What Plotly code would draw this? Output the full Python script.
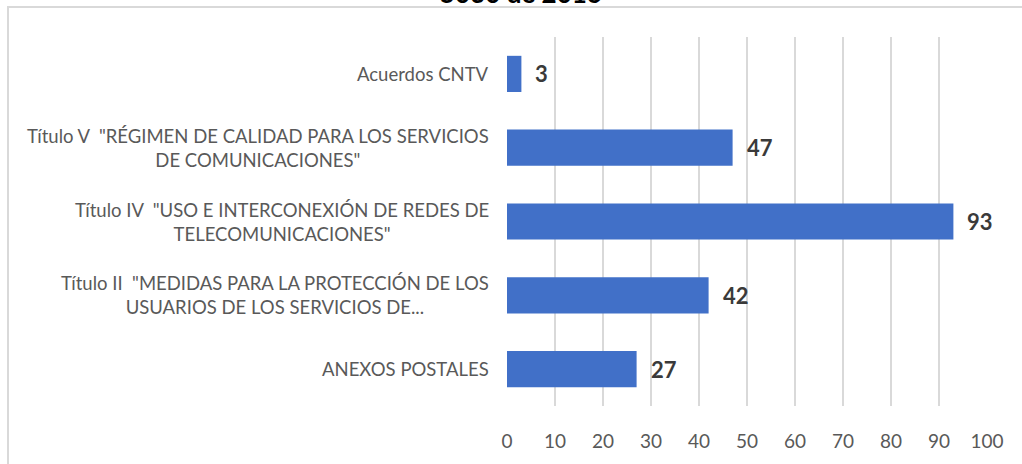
import plotly.graph_objects as go

categories = [
    "Acuerdos CNTV",
    "Título V  \"RÉGIMEN DE CALIDAD PARA LOS SERVICIOS<br>DE COMUNICACIONES\"",
    "Título IV  \"USO E INTERCONEXIÓN DE REDES DE<br>TELECOMUNICACIONES\"",
    "Título II  \"MEDIDAS PARA LA PROTECCIÓN DE LOS<br>USUARIOS DE LOS SERVICIOS DE...",
    "ANEXOS POSTALES",
]
values = [3, 47, 93, 42, 27]
x_ticks = [0, 10, 20, 30, 40, 50, 60, 70, 80, 90, 100]
title_text = "5030 de 2016"

ids = list(range(len(categories)))
FONT = "Lato, 'Open Sans', sans-serif"

L, R, T, B = 507, 35, 37, 58
PW, PH = 1022 - L - R, 464 - T - B


def px(xp):
    return (xp - L) / PW


def py(yp):
    return (464 - B - yp) / PH


fig = go.Figure()
fig.add_trace(go.Bar(
    y=ids, x=values, orientation="h", width=0.49,
    marker=dict(color="#4170C8", line=dict(width=0)),
    hoverinfo="skip",
))

annotations = []
for i, (c, v) in enumerate(zip(categories, values)):
    annotations.append(dict(
        x=0, xref="paper", y=i, yref="y", text=c, showarrow=False,
        xanchor="right", yanchor="middle", align="center", xshift=-16,
        font=dict(family=FONT, size=18.5, color="#595959"),
    ))
    annotations.append(dict(
        x=v, xref="x", y=i, yref="y", text="<b>%d</b>" % v, showarrow=False,
        xanchor="left", yanchor="middle", xshift=12,
        font=dict(family=FONT, size=22, color="#3A3A3A"),
    ))
annotations.append(dict(
    x=px(521), xref="paper", xanchor="center", y=py(11), yref="paper", yanchor="bottom",
    text="<b>%s</b>" % title_text,
    showarrow=False, font=dict(family=FONT, size=26, color="#000000"),
))

fig.update_layout(
    width=1022, height=464,
    margin=dict(l=L, r=R, t=T, b=B),
    paper_bgcolor="white", plot_bgcolor="white",
    showlegend=False,
    annotations=annotations,
    xaxis=dict(
        range=[0, 100], tickvals=x_ticks, ticktext=[str(t) for t in x_ticks],
        showgrid=True, gridcolor="#D9D9D9", gridwidth=1.5, zeroline=False,
        showline=False, ticks="", ticklabelstandoff=22,
        tickfont=dict(family=FONT, size=19, color="#595959"),
    ),
    yaxis=dict(
        tickvals=ids, showticklabels=False, range=[4.5, -0.5],
        showgrid=False, zeroline=False, showline=False,
    ),
    shapes=[
        dict(type="line", xref="paper", yref="paper", x0=px(7), x1=px(1030),
             y0=py(7), y1=py(7), line=dict(color="#D9D9D9", width=2)),
        dict(type="line", xref="paper", yref="paper", x0=px(8), x1=px(8),
             y0=py(7), y1=py(480), line=dict(color="#D9D9D9", width=2)),
    ],
)

fig.write_html(
    "out.html",
    config={"displayModeBar": False},
    post_script="document.body.style.margin='0';document.body.style.overflow='hidden';",
)
